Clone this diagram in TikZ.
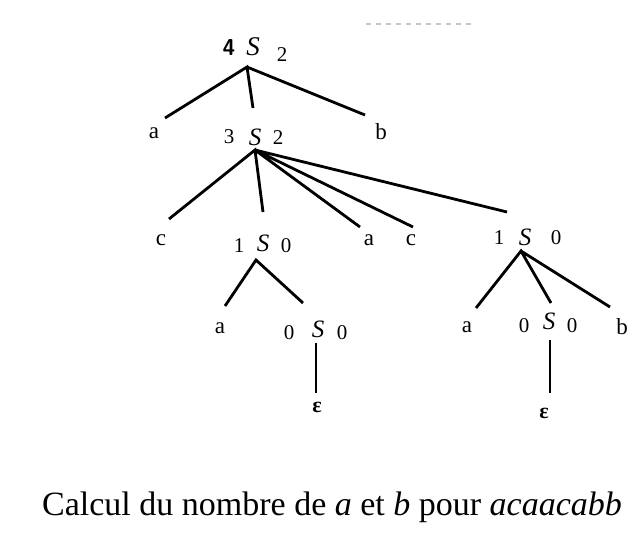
\documentclass[tikz,border=0pt]{standalone}
\usepackage{fontspec}
\setmainfont{Liberation Serif}
\begin{document}
\begin{tikzpicture}[x=1pt,y=-1pt,
  lbl/.style={inner sep=0pt,font=\fontsize{23}{26}\selectfont},
  dig/.style={inner sep=0pt,font=\fontsize{21}{24}\selectfont},
  sym/.style={inner sep=0pt,font=\fontsize{27}{30}\selectfont\itshape},
  symb/.style={inner sep=0pt,font=\fontsize{25}{28}\selectfont\itshape},
  edge/.style={line width=2.8pt},
  thin/.style={line width=1.2pt}]
\useasboundingbox (0,0) rectangle (643,536);
\draw[gray!45,line width=2pt,dash pattern=on 5pt off 5pt] (366,24) -- (473,24);
% root
\node[inner sep=0pt,font=\fontsize{23}{26}\selectfont\sffamily\bfseries] (r4) at (229,48) {4};
\node[sym] (rS) at (253,47) {S};
\node[dig] (r2) at (282,55) {2};
% row 2
\node[lbl] (a1) at (154,133) {a};
\node[dig] (m3) at (229,137) {3};
\node[symb] (mS) at (255,137) {S};
\node[dig] (m2) at (278,138) {2};
\node[lbl] (b1) at (381,132) {b};
% row 3
\node[lbl] (c1) at (161,240) {c};
\node[dig] (l1) at (239,246) {1};
\node[symb] (lS) at (263,243) {S};
\node[dig] (l0) at (286,246) {0};
\node[lbl] (a2) at (369,240) {a};
\node[lbl] (c2) at (411,240) {c};
\node[dig] (q1) at (499,238) {1};
\node[symb] (qS) at (525,237) {S};
\node[dig] (q0) at (556,238) {0};
% row 4
\node[lbl] (a3) at (220,328) {a};
\node[dig] (u0) at (289,333) {0};
\node[symb] (uS) at (318,329) {S};
\node[dig] (u0b) at (342,333) {0};
\node[lbl] (a4) at (467,327) {a};
\node[dig] (v0) at (524,326) {0};
\node[symb] (vS) at (549,321) {S};
\node[dig] (v0b) at (572,326) {0};
\node[lbl] (b2) at (622,327) {b};
% epsilons
\node[lbl,font=\fontsize{22}{25}\selectfont\bfseries] (e1) at (317,407) {ε};
\node[lbl,font=\fontsize{22}{25}\selectfont\bfseries] (e2) at (544,413) {ε};
% line ends
\coordinate (rA) at (247,67);
\coordinate (rEa) at (165,118);
\coordinate (rEm) at (253,108);
\coordinate (rEb) at (365,115);
\coordinate (mA) at (255,150);
\coordinate (mEc) at (169,219);
\coordinate (mEl) at (263,212);
\coordinate (mEa) at (360,227);
\coordinate (mEc2) at (413,227);
\coordinate (mEq) at (507,212);
\coordinate (lA) at (256,260);
\coordinate (lEa) at (225,306);
\coordinate (lEu) at (303,303);
\coordinate (qA) at (521,251);
\coordinate (qEa) at (476,308);
\coordinate (qEv) at (551,303);
\coordinate (qEb) at (610,307);
\coordinate (uT) at (316,343);
\coordinate (uB) at (316,393);
\coordinate (vT) at (550,340);
\coordinate (vB) at (550,393);
\draw[edge] (rEa) -- (rA) -- (rEm) (rA) -- (rEb);
\draw[edge] (mEc) -- (mA) -- (mEl) (mA) -- (mEa) (mA) -- (mEc2) (mA) -- (mEq);
\draw[edge] (lEa) -- (lA) -- (lEu);
\draw[edge] (qEa) -- (qA) -- (qEv) (qA) -- (qEb);
\draw[thin] (uT) -- (uB);
\draw[thin] (vT) -- (vB);
% caption
\node[anchor=base,inner sep=0pt,font=\fontsize{34}{38}\selectfont] (cap) at (332,515)
  {Calcul du nombre de \textit{a} et \textit{b} pour \textit{acaacabb}};
\end{tikzpicture}
\end{document}
